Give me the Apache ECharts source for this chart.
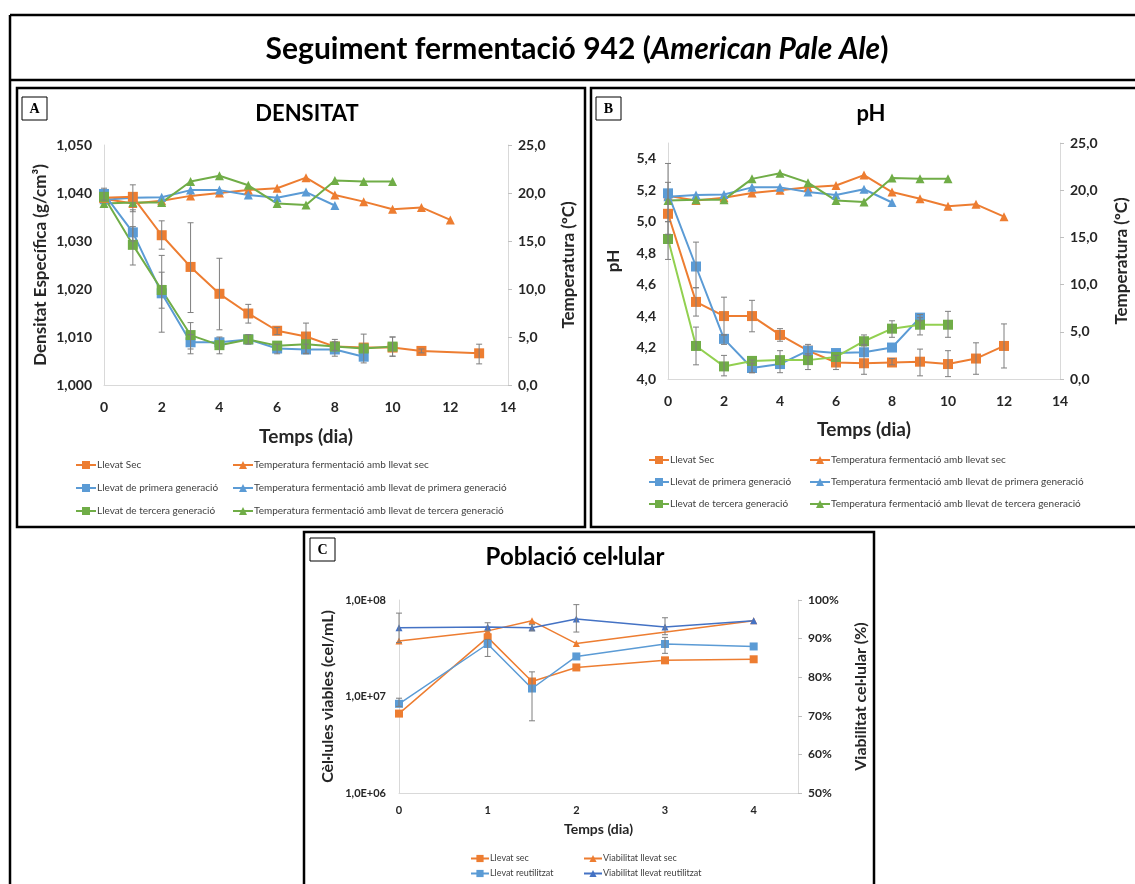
<!DOCTYPE html>
<html>
<head>
<meta charset="utf-8">
<script src="https://cdn.jsdelivr.net/npm/echarts@6/dist/echarts.min.js"></script>
<style>
  html, body { margin: 0; padding: 0; background: #fff; }
  #chart { width: 1135px; height: 884px; }
</style>
</head>
<body>
<div id="chart"></div>
<script>
// dies de fermentació
const dies = [0, 1, 2, 3, 4, 5, 6, 7, 8, 9, 10, 11, 12, 13]
const diesDensSec = [0, 1, 2, 3, 4, 5, 6, 7, 8, 9, 10, 11, 13]

// A - densitat (g/cm3)
const densSec = [1.0390, 1.0392, 1.0312, 1.0246, 1.0190, 1.0149, 1.0113, 1.0101, 1.0080, 1.0078, 1.0078, 1.0071, 1.0066]
const densPrimera = [1.0398, 1.0318, 1.0191, 1.0089, 1.0089, 1.0095, 1.0076, 1.0074, 1.0074, 1.0059]
const densTercera = [1.0392, 1.0292, 1.0198, 1.0104, 1.0083, 1.0095, 1.0082, 1.0085, 1.0080, 1.0076, 1.0080]

// temperatura (ºC)
const tempSec = [19.4, 18.9, 19.2, 19.7, 20.0, 20.3, 20.5, 21.6, 19.8, 19.1, 18.3, 18.5, 17.2]
const tempPrimera = [19.3, 19.5, 19.55, 20.3, 20.3, 19.8, 19.5, 20.1, 18.7]
const tempTercera = [18.9, 19.0, 19.0, 21.2, 21.8, 20.8, 18.9, 18.75, 21.3, 21.2, 21.2]

// B - pH
const phSec = [5.05, 4.49, 4.40, 4.40, 4.28, 4.18, 4.105, 4.10, 4.105, 4.11, 4.095, 4.13, 4.21]
const phPrimera = [5.18, 4.715, 4.255, 4.07, 4.095, 4.18, 4.165, 4.17, 4.20, 4.39]
const phTercera = [4.89, 4.21, 4.08, 4.115, 4.12, 4.12, 4.14, 4.24, 4.32, 4.345, 4.345]

// barres d'error [dia, mínim, màxim]
const errDensSec = [[1, 1.0361, 1.0417], [2, 1.0283, 1.0342], [3, 1.0151, 1.0338], [4, 1.0115, 1.0264], [5, 1.0129, 1.0168], [6, 1.0105, 1.0120], [7, 1.0066, 1.0129], [8, 1.0072, 1.0090], [10, 1.0060, 1.0100], [11, 1.0067, 1.0075], [13, 1.0044, 1.0085]]
const errDensPrimera = [[0, 1.0385, 1.0410], [1, 1.0300, 1.0365], [2, 1.0160, 1.0235], [3, 1.0065, 1.0105], [4, 1.0065, 1.0100], [5, 1.0085, 1.0105], [6, 1.0065, 1.0085], [7, 1.0065, 1.0085], [8, 1.0060, 1.0095]]
const errDensTercera = [[1, 1.0250, 1.0330], [2, 1.0110, 1.0270], [3, 1.0075, 1.0130], [9, 1.0046, 1.0106], [10, 1.0060, 1.0100]]
const errPhSec = [[0, 4.92, 5.25], [1, 4.40, 4.58], [2, 4.28, 4.52], [3, 4.30, 4.50], [4, 4.24, 4.32], [6, 4.06, 4.15], [7, 4.03, 4.22], [8, 4.09, 4.13], [9, 4.02, 4.19], [10, 4.015, 4.18], [11, 4.03, 4.23], [12, 4.07, 4.35]]
const errPhPrimera = [[0, 5.0, 5.37], [1, 4.58, 4.87], [2, 4.22, 4.28], [3, 4.04, 4.10], [5, 4.15, 4.22], [9, 4.37, 4.41]]
const errPhTercera = [[0, 4.76, 5.0], [1, 4.09, 4.33], [2, 4.02, 4.15], [3, 4.04, 4.12], [4, 4.04, 4.18], [5, 4.06, 4.16], [7, 4.21, 4.28], [8, 4.265, 4.37], [9, 4.28, 4.39], [10, 4.265, 4.43]]

// C - població cel·lular
const diesC = [0, 1, 1.5, 2, 3, 4]
const diesViabSec = [0, 1, 1.5, 2, 4]
const celSec = [6.65e6, 4.1e7, 1.43e7, 2.0e7, 2.37e7, 2.43e7]
const celReut = [8.4e6, 3.5e7, 1.21e7, 2.6e7, 3.5e7, 3.3e7]
const viabSec = [89.4, 92.0, 94.6, 88.7, 94.6]
const viabReut = [92.8, 93.0, 92.8, 95.1, 93.0, 94.6]
const errCelReut = [[0, 7.9e6, 9.6e6], [1, 2.6e7, 3.9e7], [1.5, 5.6e6, 1.8e7], [3, 2.8e7, 4.1e7]]
const errViabReut = [[0, 89.0, 96.6], [1, 92.0, 94.1], [1.5, 92.0, 93.6], [2, 91.7, 98.8], [3, 91.0, 95.4]]

const TARONJA = '#ed7d31'
const BLAU = '#5b9bd5'
const VERD = '#70ad47'
const BLAU_FOSC = '#4472c4'
const FONT = 'Lato, "Open Sans", sans-serif'

const myChart = echarts.init(document.getElementById('chart'))

function serie (name, xs, ys, color, symbol, size, xIdx, yIdx, lineColor, width) {
  return {
    name: name,
    type: 'line',
    xAxisIndex: xIdx,
    yAxisIndex: yIdx,
    symbol: symbol,
    symbolSize: size,
    itemStyle: { color: color },
    lineStyle: { color: lineColor || color, width: width || 2 },
    data: xs.slice(0, ys.length).map((x, i) => [x, ys[i]]),
    z: 3
  }
}

function barresError (data, xIdx, yIdx) {
  return {
    type: 'custom',
    xAxisIndex: xIdx,
    yAxisIndex: yIdx,
    silent: true,
    encode: { x: 0, y: [1, 2] },
    data: data,
    z: 4,
    renderItem: function (params, api) {
      const x = api.value(0)
      const lo = api.coord([x, api.value(1)])
      const hi = api.coord([x, api.value(2)])
      const w = 3
      const st = { stroke: '#7f7f7f', lineWidth: 1 }
      return {
        type: 'group',
        children: [
          { type: 'line', shape: { x1: lo[0], y1: lo[1], x2: hi[0], y2: hi[1] }, style: st },
          { type: 'line', shape: { x1: lo[0] - w, y1: lo[1], x2: lo[0] + w, y2: lo[1] }, style: st },
          { type: 'line', shape: { x1: hi[0] - w, y1: hi[1], x2: hi[0] + w, y2: hi[1] }, style: st }
        ]
      }
    }
  }
}

const coma = (v, d) => v.toFixed(d).replace('.', ',')
const lblStyle = { color: '#262626', fontWeight: 'bold', fontFamily: FONT }
const nameStyle = { color: '#262626', fontWeight: 'bold', fontFamily: FONT }
const axisLine = { show: true, lineStyle: { color: '#d9d9d9' } }

function legend (left, top, names, size, gap) {
  return {
    left: left,
    top: top,
    padding: 0,
    orient: 'vertical',
    itemWidth: 20,
    itemHeight: 10,
    itemGap: gap,
    data: names,
    selectedMode: false,
    textStyle: { fontSize: size, color: '#404040', fontFamily: FONT, padding: [0, 0, 0, -4] }
  }
}

function caixa (x, y, w, h, lw) {
  return { type: 'rect', shape: { x: x, y: y, width: w, height: h }, style: { fill: 'none', stroke: '#000', lineWidth: lw }, z: 100 }
}
function lletra (x, y, t) {
  return {
    type: 'group',
    z: 100,
    children: [
      { type: 'rect', shape: { x: x, y: y, width: 25, height: 23 }, style: { fill: '#fff', stroke: '#000', lineWidth: 1 } },
      { type: 'text', x: x + 12.5, y: y + 12, style: { text: t, font: 'bold 14px "Liberation Serif", serif', fill: '#000', align: 'center', verticalAlign: 'middle' } }
    ]
  }
}

const option = {
  animation: false,
  textStyle: { fontFamily: FONT },
  title: [
    {
      text: '{a|Seguiment fermentació 942 (}{b|American Pale Ale}{a|)}',
      left: 572, top: 29, textAlign: 'center',
      textStyle: {
        rich: {
          a: { fontSize: 30, fontWeight: 'bold', color: '#000', fontFamily: FONT },
          b: { fontSize: 30, fontWeight: 'bold', fontStyle: 'italic', color: '#000', fontFamily: FONT }
        }
      }
    },
    { text: 'DENSITAT', left: 302, top: 98, textAlign: 'center', textStyle: { fontSize: 22, fontWeight: 'bold', color: '#000', fontFamily: FONT } },
    { text: 'pH', left: 866, top: 98, textAlign: 'center', textStyle: { fontSize: 22, fontWeight: 'bold', color: '#000', fontFamily: FONT } },
    { text: 'Població cel·lular', left: 570, top: 540, textAlign: 'center', textStyle: { fontSize: 24, fontWeight: 'bold', color: '#000', fontFamily: FONT } }
  ],
  grid: [
    { left: 104, top: 145, width: 404, height: 240 },
    { left: 668, top: 143, width: 392, height: 236 },
    { left: 399, top: 600, width: 399, height: 193 }
  ],
  xAxis: [
    {
      gridIndex: 0, type: 'value', min: 0, max: 14, interval: 2,
      axisLine: axisLine, axisTick: { show: false }, splitLine: { show: false },
      axisLabel: Object.assign({ fontSize: 14, margin: 15 }, lblStyle),
      name: 'Temps (dia)', nameLocation: 'middle', nameGap: 42, nameTextStyle: Object.assign({ fontSize: 19 }, nameStyle)
    },
    {
      gridIndex: 1, type: 'value', min: 0, max: 14, interval: 2,
      axisLine: axisLine, axisTick: { show: false }, splitLine: { show: false },
      axisLabel: Object.assign({ fontSize: 14, margin: 15 }, lblStyle),
      name: 'Temps (dia)', nameLocation: 'middle', nameGap: 41, nameTextStyle: Object.assign({ fontSize: 19 }, nameStyle)
    },
    {
      gridIndex: 2, type: 'value', min: 0, max: 4.5, interval: 1,
      axisLine: axisLine, axisTick: { show: false }, splitLine: { show: false },
      axisLabel: Object.assign({ fontSize: 11, margin: 12, formatter: v => (v > 4 ? '' : String(v)) }, lblStyle),
      name: 'Temps (dia)', nameLocation: 'middle', nameGap: 29, nameTextStyle: Object.assign({ fontSize: 14 }, nameStyle)
    }
  ],
  yAxis: [
    {
      gridIndex: 0, type: 'value', min: 1.0, max: 1.05, interval: 0.01,
      axisLine: axisLine, axisTick: { show: false }, splitLine: { show: false },
      axisLabel: Object.assign({ fontSize: 14, margin: 12, formatter: v => coma(v, 3) }, lblStyle),
      name: 'Densitat Específica (g/cm³)', nameLocation: 'middle', nameGap: 55, nameTextStyle: Object.assign({ fontSize: 17 }, nameStyle)
    },
    {
      gridIndex: 0, type: 'value', position: 'right', min: 0, max: 25, interval: 5,
      axisLine: axisLine, axisTick: { show: true, length: 4, lineStyle: { color: '#bfbfbf' } }, splitLine: { show: false },
      axisLabel: Object.assign({ fontSize: 14, margin: 10, formatter: v => coma(v, 1) }, lblStyle),
      name: 'Temperatura (ºC)', nameLocation: 'middle', nameGap: 52, nameRotate: 90, nameTextStyle: Object.assign({ fontSize: 17 }, nameStyle)
    },
    {
      gridIndex: 1, type: 'value', min: 4.0, max: 5.5, interval: 0.2,
      axisLine: axisLine, axisTick: { show: false }, splitLine: { show: false },
      axisLabel: Object.assign({ fontSize: 14, margin: 12, formatter: v => (v > 5.45 ? '' : coma(v, 1)) }, lblStyle),
      name: 'pH', nameLocation: 'middle', nameGap: 46, nameTextStyle: Object.assign({ fontSize: 17 }, nameStyle)
    },
    {
      gridIndex: 1, type: 'value', position: 'right', min: 0, max: 25, interval: 5,
      axisLine: axisLine, axisTick: { show: true, length: 4, lineStyle: { color: '#bfbfbf' } }, splitLine: { show: false },
      axisLabel: Object.assign({ fontSize: 14, margin: 10, formatter: v => coma(v, 1) }, lblStyle),
      name: 'Temperatura (ºC)', nameLocation: 'middle', nameGap: 53, nameRotate: 90, nameTextStyle: Object.assign({ fontSize: 17 }, nameStyle)
    },
    {
      gridIndex: 2, type: 'log', logBase: 10, min: 1e6, max: 1e8,
      axisLine: axisLine, axisTick: { show: false }, splitLine: { show: false }, minorTick: { show: false },
      axisLabel: Object.assign({ fontSize: 11, margin: 13, formatter: v => '1,0E+0' + Math.round(Math.log10(v)) }, lblStyle),
      name: 'Cèl·lules viables (cel/mL)', nameLocation: 'middle', nameGap: 63, nameTextStyle: Object.assign({ fontSize: 16 }, nameStyle)
    },
    {
      gridIndex: 2, type: 'value', position: 'right', min: 50, max: 100, interval: 10,
      axisLine: axisLine, axisTick: { show: true, length: 4, lineStyle: { color: '#bfbfbf' } }, splitLine: { show: false },
      axisLabel: Object.assign({ fontSize: 12, margin: 10, formatter: v => v + '%' }, lblStyle),
      name: 'Viabilitat cel·lular (%)', nameLocation: 'middle', nameGap: 55, nameRotate: 90, nameTextStyle: Object.assign({ fontSize: 16 }, nameStyle)
    }
  ],
  legend: [
    legend(75, 460, ['Llevat Sec', 'Llevat de primera generació', 'Llevat de tercera generació'], 10, 13),
    legend(232, 460, ['Temperatura fermentació amb llevat sec', 'Temperatura fermentació amb llevat de primera generació', 'Temperatura fermentació amb llevat de tercera generació'], 10, 13),
    legend(648, 455, ['Llevat Sec', 'Llevat de primera generació', 'Llevat de tercera generació'], 10, 12),
    legend(809, 455, ['Temperatura fermentació amb llevat sec', 'Temperatura fermentació amb llevat de primera generació', 'Temperatura fermentació amb llevat de tercera generació'], 10, 12),
    Object.assign(legend(470, 854, ['Llevat sec', 'Llevat reutilitzat'], 9, 6), { itemWidth: 18, itemHeight: 9 }),
    Object.assign(legend(583, 854, ['Viabilitat llevat sec', 'Viabilitat llevat reutilitzat'], 9, 6), { itemWidth: 18, itemHeight: 9 })
  ],
  graphic: [
    { type: 'line', shape: { x1: 10, y1: 15, x2: 1135, y2: 15 }, style: { stroke: '#000', lineWidth: 2.5 }, z: 100 },
    { type: 'line', shape: { x1: 10, y1: 15, x2: 10, y2: 884 }, style: { stroke: '#000', lineWidth: 2.5 }, z: 100 },
    { type: 'line', shape: { x1: 10, y1: 80, x2: 1135, y2: 80 }, style: { stroke: '#000', lineWidth: 2.5 }, z: 100 },
    caixa(17, 88, 568, 439, 2.5),
    caixa(591, 88, 550, 439, 2.5),
    caixa(304, 532, 570, 360, 2.5),
    lletra(22, 97, 'A'),
    lletra(596, 97, 'B'),
    lletra(310, 538, 'C')
  ],
  series: [
    // A
    serie('Temperatura fermentació amb llevat sec', dies, tempSec, TARONJA, 'triangle', 9, 0, 1),
    serie('Temperatura fermentació amb llevat de primera generació', dies, tempPrimera, BLAU, 'triangle', 9, 0, 1),
    serie('Temperatura fermentació amb llevat de tercera generació', dies, tempTercera, VERD, 'triangle', 9, 0, 1),
    serie('Llevat Sec', diesDensSec, densSec, TARONJA, 'rect', 10, 0, 0),
    serie('Llevat de primera generació', dies, densPrimera, BLAU, 'rect', 10, 0, 0),
    serie('Llevat de tercera generació', dies, densTercera, VERD, 'rect', 10, 0, 0),
    barresError(errDensSec, 0, 0),
    barresError(errDensPrimera, 0, 0),
    barresError(errDensTercera, 0, 0),
    // B
    serie('Temperatura fermentació amb llevat sec', dies, tempSec, TARONJA, 'triangle', 9, 1, 3),
    serie('Temperatura fermentació amb llevat de primera generació', dies, tempPrimera, BLAU, 'triangle', 9, 1, 3),
    serie('Temperatura fermentació amb llevat de tercera generació', dies, tempTercera, VERD, 'triangle', 9, 1, 3),
    serie('Llevat Sec', dies, phSec, TARONJA, 'rect', 10, 1, 2),
    serie('Llevat de primera generació', dies, phPrimera, BLAU, 'rect', 10, 1, 2),
    serie('Llevat de tercera generació', dies, phTercera, VERD, 'rect', 10, 1, 2, '#92d050'),
    barresError(errPhSec, 1, 2),
    barresError(errPhPrimera, 1, 2),
    barresError(errPhTercera, 1, 2),
    // C
    serie('Llevat sec', diesC, celSec, TARONJA, 'rect', 8, 2, 4, null, 1.5),
    serie('Llevat reutilitzat', diesC, celReut, BLAU, 'rect', 8, 2, 4, null, 1.5),
    serie('Viabilitat llevat sec', diesViabSec, viabSec, TARONJA, 'triangle', 7, 2, 5, null, 1.5),
    serie('Viabilitat llevat reutilitzat', diesC, viabReut, BLAU_FOSC, 'triangle', 7, 2, 5, null, 1.5),
    barresError(errCelReut, 2, 4),
    barresError(errViabReut, 2, 5)
  ]
}

myChart.setOption(option)
</script>
</body>
</html>
